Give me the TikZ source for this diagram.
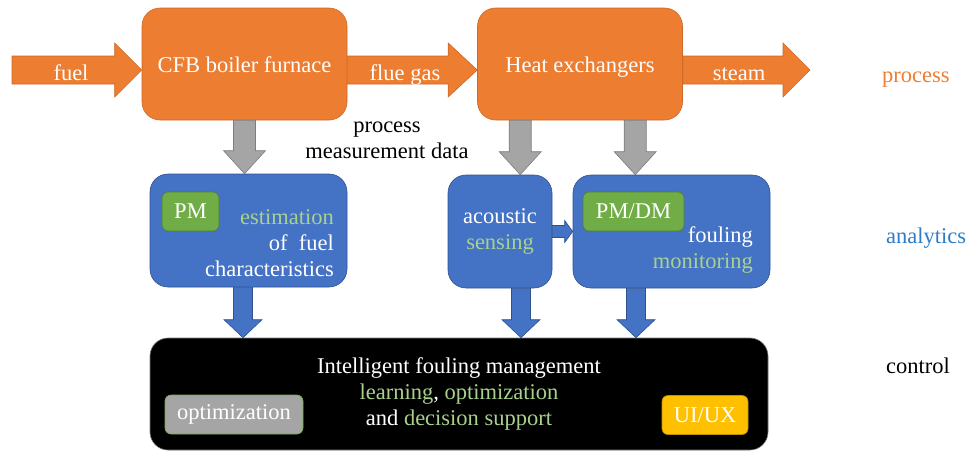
\documentclass[tikz,border=0pt]{standalone}
\usepackage{fontspec}
\setmainfont{Liberation Serif}
\usepackage{tikz}
\usetikzlibrary{calc,positioning}
\definecolor{myorange}{RGB}{237,125,49}
\definecolor{myorangedark}{RGB}{205,105,40}
\definecolor{myblue}{RGB}{68,114,196}
\definecolor{mybluedark}{RGB}{47,82,143}
\definecolor{mygreen}{RGB}{112,173,71}
\definecolor{mygreendark}{RGB}{80,126,50}
\definecolor{mylightgreen}{RGB}{169,209,142}
\definecolor{mygray}{RGB}{165,165,165}
\definecolor{mygraydark}{RGB}{125,125,125}
\definecolor{myyellow}{RGB}{255,192,0}
\definecolor{myyellowdark}{RGB}{190,145,0}
\definecolor{mytextblue}{RGB}{46,125,200}
\tikzset{
    orangearrow/.style={fill=myorange, draw=myorangedark, line width=0.6pt},
    grayarrow/.style={fill=mygray, draw=mygraydark, line width=0.6pt},
    bluearrow/.style={fill=myblue, draw=mybluedark, line width=0.6pt}
}
% block arrows: style, from, to, half shaft, half head, head length
\newcommand{\harrow}[6]{%
  \path[#1] let \p1=(#2), \p2=(#3) in
    (\x1,\y1+#4) -- (\x2-#6,\y1+#4) -- (\x2-#6,\y1+#5) -- (\x2,\y1)
    -- (\x2-#6,\y1-#5) -- (\x2-#6,\y1-#4) -- (\x1,\y1-#4) -- cycle;}
\newcommand{\varrow}[6]{%
  \path[#1] let \p1=(#2), \p2=(#3) in
    (\x1-#4,\y1) -- (\x1-#4,\y2+#6) -- (\x1-#5,\y2+#6) -- (\x1,\y2)
    -- (\x1+#5,\y2+#6) -- (\x1+#4,\y2+#6) -- (\x1+#4,\y1) -- cycle;}
\newcommand{\grn}[1]{\textcolor{mylightgreen}{#1}}

\begin{document}
\begin{tikzpicture}[
  x=1pt, y=-1pt,
  font=\fontsize{22.5}{26}\selectfont,
  procbox/.style={
    draw=myorangedark, line width=0.6pt,
    fill=myorange,
    rounded corners=18pt,
    minimum width=205pt, minimum height=112pt,
    text=white, text height=16pt, text depth=0pt
    },
  anabox/.style={
    draw=mybluedark, line width=0.6pt,
    fill=myblue,
    rounded corners=18pt,
    minimum height=113pt,
    text=white, align=center
    },
  tagbox/.style={
    draw=#1dark, line width=0.6pt,
    fill=#1,
    rounded corners=6pt,
    minimum height=39pt,
    text=white
    },
  lbl/.style={inner sep=0pt, anchor=base}
  ]
\useasboundingbox (0,0) rectangle (969,451);

% process
\node[procbox] (cfb) at (244.5,64) {CFB boiler furnace};
\node[procbox] (heat) at (580,64) {Heat exchangers};
\coordinate (fuelin) at (12,70);
\coordinate (steamout) at (810,70);

\harrow{orangearrow}{fuelin}{fuelin -| cfb.west}{14pt}{27pt}{27pt}
\harrow{orangearrow}{fuelin -| cfb.east}{fuelin -| heat.west}{14pt}{27pt}{29pt}
\harrow{orangearrow}{fuelin -| heat.east}{steamout}{14pt}{27pt}{27pt}
\node[lbl, text=white] (fuel) at (71,80) {fuel};
\node[lbl, text=white] (flue) at (405,80) {flue gas};
\node[lbl, text=white] (steam) at (739,80) {steam};

% analytics
\node[anabox, minimum width=197pt] (est) at (248.5,230.5) {};
\node[anabox, minimum width=104pt] (acoustic) at (500,231.5) {acoustic\\\grn{sensing}};
\node[anabox, minimum width=197pt] (fouling) at (671.5,231.5) {};
\node[tagbox=mygreen, minimum width=57pt] (pm) at (190.5,211.5) {PM};
\node[tagbox=mygreen, minimum width=101pt] (pmdm) at (633.5,211.5) {PM/DM};
\node[inner sep=0pt, anchor=east, align=right, text=white] (esttext) at (334,243.3)
  {\grn{estimation}\\of\ \ fuel\\characteristics};
\node[inner sep=0pt, anchor=east, align=right, text=white] (foultext) at (753,249.8)
  {fouling\\\grn{monitoring}};
\node[inner sep=0pt, align=center] (pmd) at (387,140.8) {process\\measurement data};

\coordinate (h1) at ([xshift=43pt]heat.south west);
\coordinate (h2) at ([xshift=158pt]heat.south west);
\varrow{grayarrow}{cfb.south}{cfb.south |- est.north}{11pt}{21pt}{23pt}
\varrow{grayarrow}{h1}{h1 |- acoustic.north}{11pt}{21pt}{23pt}
\varrow{grayarrow}{h2}{h2 |- fouling.north}{11pt}{21pt}{23pt}
\harrow{bluearrow}{acoustic.east}{acoustic.east -| fouling.west}{6pt}{11pt}{8pt}

% control
\node[draw=mygraydark, line width=0.6pt, fill=black, rounded corners=18pt,
  minimum width=618pt, minimum height=112pt, text=white, align=center]
  (ifm) at (459,394)
  {Intelligent fouling management\\\grn{learning}, \grn{optimization}\\and \grn{decision support}};
\node[tagbox=mygray, draw=mygreen, minimum width=138pt] (opt) at (234,414.5) {optimization};
\node[tagbox=myyellow, minimum width=86pt] (uiux) at (705,415) {UI/UX};

\coordinate (d1) at ([xshift=-5.5pt]est.south);
\coordinate (d2) at ([xshift=21pt]acoustic.south);
\coordinate (d3) at ([xshift=-35.5pt]fouling.south);
\varrow{bluearrow}{d1}{d1 |- ifm.north}{9.5pt}{19pt}{18pt}
\varrow{bluearrow}{d2}{d2 |- ifm.north}{9.5pt}{19pt}{18pt}
\varrow{bluearrow}{d3}{d3 |- ifm.north}{9.5pt}{19pt}{18pt}

% layer labels
\node[lbl, anchor=base west, text=myorange] (lprocess) at (882,82) {process};
\node[lbl, anchor=base west, text=mytextblue] (lanalytics) at (886,243) {analytics};
\node[lbl, anchor=base west] (lcontrol) at (886,373) {control};

\end{tikzpicture}
\end{document}
